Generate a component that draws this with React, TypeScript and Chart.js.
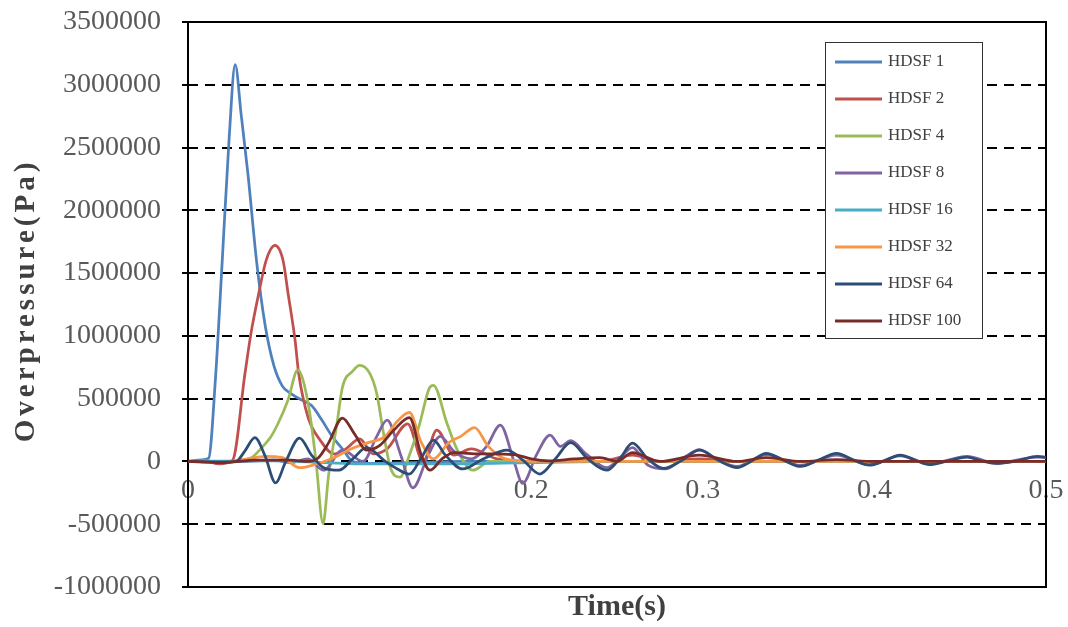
import React, { useEffect, useRef } from 'react';
import { Chart, registerables } from 'chart.js';

Chart.register(...registerables);

const FONT = '"Liberation Serif", "Times New Roman", serif';

const seriesLabels = ['HDSF 1', 'HDSF 2', 'HDSF 4', 'HDSF 8', 'HDSF 16', 'HDSF 32', 'HDSF 64', 'HDSF 100'];
const seriesColors = ['#4F81BD', '#C0504D', '#9BBB59', '#8064A2', '#4BACC6', '#F79646', '#2C4D75', '#772C2A'];

const yTicks = { min: -1000000, max: 3500000, step: 500000 };
const xTicks = { min: 0, max: 0.5, step: 0.1 };
const xTitle = 'Time(s)';
const yTitle = 'Overpressure(Pa)';

// HDSF 1
const t1 = [0, 0.006, 0.012, 0.016, 0.020, 0.024, 0.0275, 0.031, 0.035, 0.040, 0.045, 0.050, 0.055, 0.060, 0.066, 0.072, 0.078, 0.084, 0.090, 0.096, 0.105, 0.13, 0.16, 0.2, 0.25, 0.3, 0.35, 0.4, 0.45, 0.5];
const p1 = [0, 10000, 25000, 660000, 1610000, 2580000, 3160000, 2760000, 2280000, 1590000, 1080000, 765000, 600000, 540000, 490000, 445000, 330000, 200000, 100000, 0, -15000, -10000, 0, 0, 0, 0, 0, 0, 0, 0];

// HDSF 2
const t2 = [0, 0.010, 0.018, 0.026, 0.0332, 0.0367, 0.0408, 0.0455, 0.0507, 0.0554, 0.0583, 0.0624, 0.0645, 0.070, 0.077, 0.085, 0.092, 0.100, 0.108, 0.116, 0.128, 0.137, 0.145, 0.155, 0.165, 0.18, 0.2, 0.24, 0.259, 0.275, 0.298, 0.32, 0.35, 0.4, 0.5];
const p2 = [0, 5000, -20000, 10000, 700000, 1020000, 1310000, 1600000, 1720000, 1600000, 1340000, 965000, 700000, 350000, 170000, 60000, 100000, 180000, 60000, 100000, 300000, 0, 250000, 50000, 100000, 20000, 0, 0, 50000, 0, 20000, 0, 0, 0, 0];

// HDSF 4
const t3 = [0, 0.010, 0.020, 0.030, 0.037, 0.043, 0.048, 0.0524, 0.0583, 0.064, 0.067, 0.071, 0.0746, 0.0787, 0.082, 0.0868, 0.090, 0.096, 0.100, 0.106, 0.110, 0.114, 0.118, 0.1235, 0.129, 0.135, 0.1405, 0.143, 0.151, 0.157, 0.166, 0.176, 0.2, 0.3, 0.4, 0.5];
const p3 = [0, 5000, -10000, 10000, 30000, 110000, 190000, 300000, 490000, 730000, 650000, 380000, 0, -495000, -100000, 300000, 590000, 720000, 765000, 700000, 540000, 220000, -50000, -125000, 50000, 300000, 580000, 606000, 300000, 90000, -70000, 0, 0, 0, 0, 0];

// HDSF 8
const t4 = [0, 0.03, 0.05, 0.06, 0.07, 0.079, 0.090, 0.102, 0.110, 0.116, 0.124, 0.131, 0.14, 0.147, 0.155, 0.165, 0.174, 0.182, 0.19, 0.195, 0.203, 0.211, 0.217, 0.223, 0.232, 0.244, 0.252, 0.259, 0.268, 0.278, 0.29, 0.298, 0.31, 0.32, 0.337, 0.357, 0.378, 0.397, 0.415, 0.432, 0.454, 0.471, 0.495, 0.5];
const p4 = [0, 0, 10000, -10000, 20000, -70000, 90000, 0, 200000, 330000, 50000, -210000, 50000, 200000, 80000, 20000, 120000, 290000, 0, -175000, 50000, 210000, 120000, 165000, 60000, -50000, 30000, 110000, -30000, -60000, 40000, 95000, 0, -40000, 55000, -30000, 50000, -25000, 45000, -20000, 40000, -15000, 35000, 30000];

// HDSF 16
const t5 = [0, 0.05, 0.08, 0.1, 0.15, 0.2, 0.25, 0.5];
const p5 = [0, 5000, -10000, -20000, -20000, -10000, 0, 0];

// HDSF 32
const t6 = [0, 0.02, 0.035, 0.045, 0.055, 0.065, 0.075, 0.085, 0.095, 0.105, 0.115, 0.122, 0.129, 0.136, 0.143, 0.152, 0.159, 0.167, 0.175, 0.185, 0.2, 0.25, 0.3, 0.4, 0.5];
const p6 = [0, -10000, 20000, 40000, 30000, -50000, -20000, 30000, 100000, 150000, 200000, 320000, 390000, 150000, 20000, 150000, 200000, 270000, 120000, 20000, 0, 0, 0, 0, 0];

// HDSF 64
const t7 = [0, 0.02, 0.028, 0.033, 0.039, 0.045, 0.051, 0.057, 0.065, 0.072, 0.079, 0.088, 0.096, 0.104, 0.115, 0.122, 0.129, 0.136, 0.143, 0.150, 0.160, 0.172, 0.186, 0.196, 0.205, 0.214, 0.223, 0.233, 0.244, 0.252, 0.259, 0.268, 0.277, 0.288, 0.298, 0.309, 0.32, 0.328, 0.337, 0.347, 0.357, 0.367, 0.378, 0.388, 0.397, 0.406, 0.415, 0.424, 0.432, 0.443, 0.454, 0.462, 0.471, 0.483, 0.495, 0.5];
const p7 = [0, -5000, 0, 80000, 190000, 40000, -170000, 0, 185000, 50000, -50000, -70000, 20000, 110000, 0, -60000, -100000, 30000, 170000, 50000, -60000, 20000, 90000, 0, -100000, 20000, 150000, 20000, -70000, 30000, 145000, 20000, -55000, 10000, 90000, 10000, -50000, 0, 65000, 10000, -40000, 10000, 65000, 10000, -30000, 5000, 50000, 10000, -25000, 5000, 35000, 5000, -15000, 5000, 40000, 35000];

// HDSF 100
const t8 = [0, 0.02, 0.04, 0.06, 0.07, 0.076, 0.082, 0.090, 0.097, 0.104, 0.112, 0.120, 0.129, 0.136, 0.141, 0.148, 0.155, 0.17, 0.19, 0.2, 0.21, 0.225, 0.24, 0.25, 0.259, 0.275, 0.298, 0.32, 0.337, 0.357, 0.378, 0.4, 0.45, 0.5];
const p8 = [0, -10000, 10000, 10000, 0, 30000, 150000, 345000, 220000, 90000, 130000, 250000, 350000, 50000, -70000, 20000, 70000, 60000, 55000, 20000, 5000, 20000, 30000, 0, 70000, 0, 50000, 0, 30000, 0, 15000, 0, 0, 0];

const seriesTimes = [t1, t2, t3, t4, t5, t6, t7, t8];
const seriesValues = [p1, p2, p3, p4, p5, p6, p7, p8];

const framePlugin = {
  id: 'frame',
  beforeDatasetsDraw(chart: any) {
    const { ctx, chartArea } = chart;
    ctx.save();
    ctx.strokeStyle = '#000';
    ctx.lineWidth = 2;
    ctx.strokeRect(chartArea.left, chartArea.top, chartArea.right - chartArea.left, chartArea.bottom - chartArea.top);
    ctx.restore();
  },
};

const yTitlePlugin = {
  id: 'yTitle',
  afterDraw(chart: any) {
    const { ctx, chartArea } = chart;
    ctx.save();
    ctx.translate(27, (chartArea.top + chartArea.bottom) / 2 - 4);
    ctx.rotate(-Math.PI / 2);
    ctx.font = `bold 29px ${FONT}`;
    try { (ctx as any).letterSpacing = '4px'; } catch (e) { /* ignore */ }
    ctx.textAlign = 'center';
    ctx.textBaseline = 'middle';
    ctx.fillStyle = '#404040';
    ctx.fillText(yTitle, 0, 0);
    ctx.restore();
  },
};

const legendPlugin = {
  id: 'boxLegend',
  afterDraw(chart: any) {
    const { ctx } = chart;
    const bx = 825, by = 42, bw = 157, bh = 296;
    ctx.save();
    ctx.fillStyle = '#fff';
    ctx.fillRect(bx, by, bw, bh);
    ctx.strokeStyle = '#333';
    ctx.lineWidth = 1;
    ctx.strokeRect(bx + 0.5, by + 0.5, bw, bh);
    ctx.font = `17px ${FONT}`;
    ctx.textBaseline = 'middle';
    ctx.textAlign = 'left';
    chart.data.datasets.forEach((ds: any, i: number) => {
      const y = 62 + i * 37;
      ctx.strokeStyle = ds.borderColor;
      ctx.lineWidth = 3;
      ctx.beginPath();
      ctx.moveTo(835, y);
      ctx.lineTo(882, y);
      ctx.stroke();
      ctx.fillStyle = '#404040';
      ctx.fillText(ds.label, 888, y);
    });
    ctx.restore();
  },
};

export default function App() {
  const ref = useRef<HTMLCanvasElement>(null);
  useEffect(() => {
    const canvas = ref.current;
    if (!canvas) return;
    const datasets = seriesLabels.map((label, i) => ({
      label,
      data: seriesTimes[i].map((t, j) => ({ x: t, y: seriesValues[i][j] })),
      borderColor: seriesColors[i],
      backgroundColor: seriesColors[i],
      borderWidth: 2.75,
      pointRadius: 0,
      cubicInterpolationMode: 'monotone' as const,
      fill: false,
      order: seriesLabels.length - i,
    }));
    const chart = new Chart(canvas, {
      type: 'line',
      data: { datasets },
      options: {
        animation: false,
        responsive: false,
        layout: { padding: { top: 22, right: 22, left: 0, bottom: 0 } },
        plugins: { legend: { display: false }, tooltip: { enabled: false } },
        scales: {
          x: {
            type: 'linear',
            position: 'bottom',
            min: xTicks.min,
            max: xTicks.max,
            ticks: { display: false },
            grid: { display: false, drawTicks: false },
            border: { display: false },
            title: {
              display: true,
              text: xTitle,
              color: '#404040',
              font: { family: FONT, size: 30, weight: 'bold' },
              padding: { top: 0, bottom: 2 },
            },
            afterFit: (s: any) => { s.height = 40; s.paddingLeft = 0; s.paddingRight = 0; },
          },
          xz: {
            type: 'linear',
            position: { y: 0 },
            min: xTicks.min,
            max: xTicks.max,
            ticks: {
              stepSize: xTicks.step,
              maxRotation: 0,
              autoSkip: false,
              padding: 4,
              color: '#595959',
              font: { family: FONT, size: 28 },
              callback: (v: any) => String(Math.round(Number(v) * 10) / 10),
            },
            grid: { display: false },
            border: { display: false },
            afterFit: (s: any) => { s.paddingLeft = 0; s.paddingRight = 0; s.paddingTop = 0; s.paddingBottom = 0; },
          },
          y: {
            type: 'linear',
            position: 'left',
            min: yTicks.min,
            max: yTicks.max,
            ticks: {
              stepSize: yTicks.step,
              padding: 21,
              color: '#595959',
              font: { family: FONT, size: 28 },
              callback: (v: any) => String(v),
            },
            grid: {
              color: (c: any) => (c.tick && (c.tick.value === yTicks.max || c.tick.value === yTicks.min) ? 'rgba(0,0,0,0)' : '#000'),
              lineWidth: 2,
              tickColor: '#000',
              tickLength: 6,
              tickWidth: 2,
            },
            border: { display: false, dash: [10, 7] },
            afterFit: (s: any) => { s.width = 188; s.paddingTop = 0; s.paddingBottom = 0; },
          },
        },
      } as any,
      plugins: [framePlugin, legendPlugin, yTitlePlugin],
    });
    return () => chart.destroy();
  }, []);
  return (
    <div style={{ position: 'fixed', left: 0, top: 0, width: 1068, height: 627, background: '#fff' }}>
      <canvas ref={ref} width={1068} height={627} style={{ display: 'block' }} />
    </div>
  );
}
